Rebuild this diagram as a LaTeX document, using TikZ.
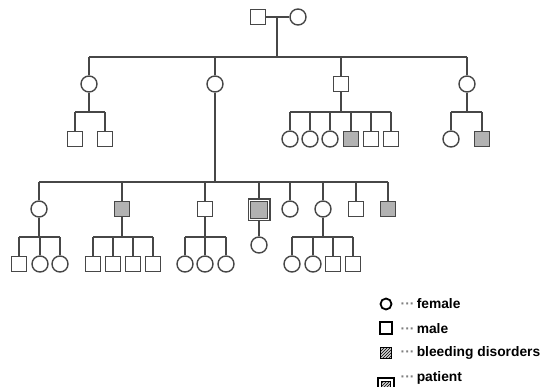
\documentclass[tikz,border=0pt]{standalone}
\usepackage{fontspec}
\setmainfont{Liberation Sans}
\usetikzlibrary{patterns}
\begin{document}
\begin{tikzpicture}[x=1pt, y=-1pt, line width=1.4pt, draw=black!72,
    male/.style={draw, minimum size=15pt, inner sep=0pt},
    female/.style={draw, circle, minimum size=16pt, inner sep=0pt},
    affected/.style={male, fill=gray!60},
    patient/.style={affected, double, double distance=1.3pt, line width=1.1pt, minimum size=19.5pt},
    keymark/.style={draw=black, line width=1.8pt, inner sep=0pt},
    keytext/.style={anchor=west, inner sep=0pt, font=\bfseries\fontsize{13.8}{15}\selectfont, text=black},
    dots/.style={text=gray!80}]
    \useasboundingbox (0,0) rectangle (541,387);
    % first generation
    \node[male] (gf) at (258,17) {};
    \node[female] (gm) at (298,17) {};
    \coordinate (mar) at (277,17);
    \coordinate (s0) at (277,57);
    \draw (gf) -- (gm);
    \draw (mar) -- (s0);
    % second generation
    \node[female] (a1) at (89,84) {};
    \node[female] (a2) at (215,84) {};
    \node[male] (a3) at (341,84) {};
    \node[female] (a4) at (467,84) {};
    \draw (a1 |- s0) -- (a4 |- s0);
    \foreach \c in {a1,a2,a3,a4}
        \draw (\c) -- (\c |- s0);
    % children of a1
    \node[male] (b11) at (75,139) {};
    \node[male] (b12) at (105,139) {};
    \coordinate (s1) at (89,112);
    \draw (a1) -- (s1);
    \draw (b11 |- s1) -- (b12 |- s1);
    \foreach \c in {b11,b12}
        \draw (\c) -- (\c |- s1);
    % children of a3
    \foreach \n/\x/\s in {b31/290/female, b32/310/female, b33/330/female, b34/351/affected, b35/371/male, b36/391/male}
        \node[\s] (\n) at (\x,139) {};
    \coordinate (s3) at (341,112);
    \draw (a3) -- (s3);
    \draw (b31 |- s3) -- (b36 |- s3);
    \foreach \c in {b31,b32,b33,b34,b35,b36}
        \draw (\c) -- (\c |- s3);
    % children of a4
    \node[female] (b41) at (451,139) {};
    \node[affected] (b42) at (482,139) {};
    \coordinate (s4) at (467,112);
    \draw (a4) -- (s4);
    \draw (b41 |- s4) -- (b42 |- s4);
    \foreach \c in {b41,b42}
        \draw (\c) -- (\c |- s4);
    % third generation (children of a2)
    \foreach \n/\x/\s in {c1/39/female, c2/122/affected, c3/205/male, c5/290/female, c6/323/female, c7/356/male, c8/388/affected}
        \node[\s] (\n) at (\x,209) {};
    \node[patient] (c4) at (259,210) {};
    \coordinate (s2) at (215,182);
    \draw (a2) -- (s2);
    \draw (c1 |- s2) -- (c8 |- s2);
    \foreach \c in {c1,c2,c3,c4,c5,c6,c7,c8}
        \draw (\c) -- (\c |- s2);
    % fourth generation
    \foreach \n/\x/\s in {d11/19/male, d12/40/female, d13/60/female,
                          d21/93/male, d22/113/male, d23/133/male, d24/153/male,
                          d31/185/female, d32/205/female, d33/226/female,
                          d61/292/female, d62/313/female, d63/333/male, d64/353/male}
        \node[\s] (\n) at (\x,264) {};
    \node[female] (d41) at (259,245) {};
    \draw (c4) -- (d41);
    \coordinate (t1) at (39,237);
    \draw (c1) -- (t1);
    \draw (d11 |- t1) -- (d13 |- t1);
    \foreach \c in {d11,d12,d13}
        \draw (\c) -- (\c |- t1);
    \coordinate (t2) at (122,237);
    \draw (c2) -- (t2);
    \draw (d21 |- t2) -- (d24 |- t2);
    \foreach \c in {d21,d22,d23,d24}
        \draw (\c) -- (\c |- t2);
    \coordinate (t3) at (205,237);
    \draw (c3) -- (t3);
    \draw (d31 |- t3) -- (d33 |- t3);
    \foreach \c in {d31,d32,d33}
        \draw (\c) -- (\c |- t3);
    \coordinate (t6) at (323,237);
    \draw (c6) -- (t6);
    \draw (d61 |- t6) -- (d64 |- t6);
    \foreach \c in {d61,d62,d63,d64}
        \draw (\c) -- (\c |- t6);
    % key
    \node[keymark, circle, minimum size=11pt] (kf) at (386,304) {};
    \node[keymark, minimum size=11.5pt] (km) at (386,328) {};
    \node[keymark, minimum size=10.5pt, line width=0.9pt, fill=gray!35,
          postaction={pattern=north east lines}] (ka) at (386,353) {};
    \node[keymark, minimum size=9.5pt, line width=0.9pt, fill=gray!35,
          postaction={pattern=north east lines}] (kp) at (386,386) {};
    \node[keymark, minimum size=16.5pt] (kpo) at (kp) {};
    \node[keytext] (tf) at (400,304) {{\color{gray}\textperiodcentered\textperiodcentered\textperiodcentered}\,female};
    \node[keytext] (tm) at (400,329) {{\color{gray}\textperiodcentered\textperiodcentered\textperiodcentered}\,male};
    \node[keytext] (ta) at (400,353) {{\color{gray}\textperiodcentered\textperiodcentered\textperiodcentered}\,bleeding disorders};
    \node[keytext] (tp) at (400,378) {{\color{gray}\textperiodcentered\textperiodcentered\textperiodcentered}\,patient};
\end{tikzpicture}
\end{document}
